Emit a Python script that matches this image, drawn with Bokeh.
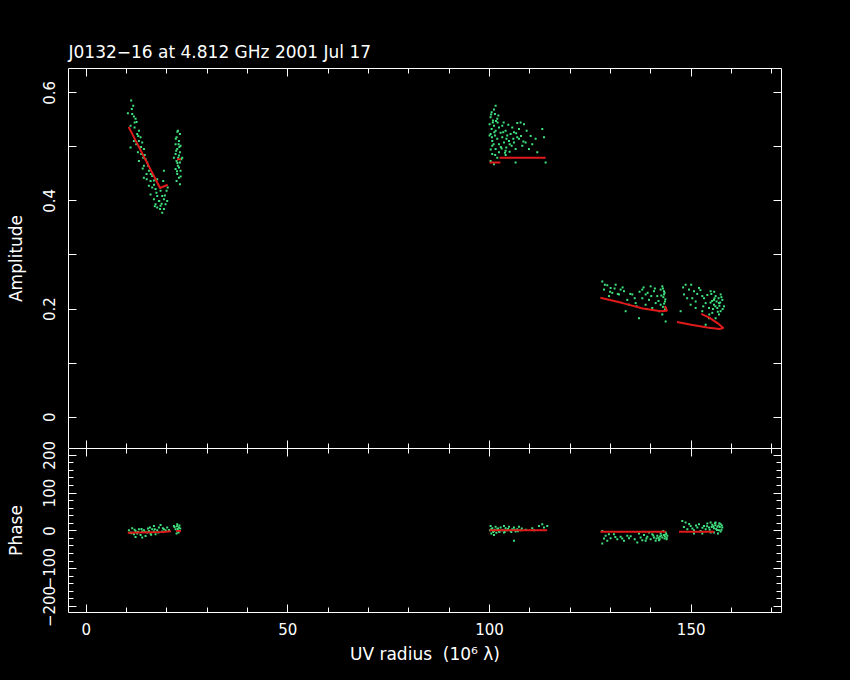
from bokeh.plotting import figure
from bokeh.models import LinearAxis, FixedTicker, Range1d
from bokeh.layouts import column
from bokeh.embed import file_html
from bokeh.resources import INLINE

TITLE = "J0132\u221216 at 4.812 GHz 2001 Jul 17"
X_LABEL = "UV radius\u00a0\u00a0(10\u2076 \u03bb)"
AMP_LABEL = "Amplitude"
PHASE_LABEL = "Phase"

# ---- amplitude data (UV radius in 10^6 lambda, amplitude in Jy) ----
amp_uv = [
    11.15, 11.65, 10.33, 11.40, 11.82, 12.23, 12.48, 10.99, 11.98, 13.06, 12.64, 13.47, 11.82, 13.06,
    13.88, 10.99, 13.30, 14.30, 12.81, 13.64, 14.13, 14.71, 13.06, 15.12, 14.30, 15.54, 14.96, 16.36,
    14.30, 15.95, 16.78, 17.60, 15.54, 16.36, 17.19, 18.43, 15.95, 17.60, 18.84, 16.78, 18.02, 19.26,
    17.19, 18.43, 19.67, 17.60, 19.26, 18.84, 20.08, 19.92, 19.09, 19.26,
    22.73, 23.23, 22.40, 22.98, 22.15, 23.39, 22.56, 23.23, 22.15, 22.98, 23.56, 22.40, 23.23, 22.73,
    22.15, 23.39, 22.56, 22.98, 22.40, 23.23, 23.80, 21.74, 22.60, 22.90, 22.30, 23.00, 22.60,
    101.51, 101.10, 100.52, 101.34, 100.27, 100.85, 101.92, 100.02, 101.10, 100.52, 101.51, 102.34,
    100.27, 101.34, 102.75, 103.99, 100.68, 101.92, 103.16, 104.40, 105.23, 106.06, 106.88, 100.68,
    102.34, 103.58, 104.82, 106.06, 107.30, 101.51, 103.00, 104.16, 105.48, 106.47, 108.12, 100.68,
    102.34, 103.82, 104.98, 106.88, 107.71, 108.54, 108.95, 110.60, 111.43, 113.08, 113.50, 113.91,
    100.27, 101.10, 106.47, 103.99, 101.92, 100.02, 103.16, 104.65, 105.64, 107.30, 109.78, 111.84,
    100.40, 100.80, 101.20, 100.60, 101.00, 100.30, 101.40,
    127.96, 129.20, 128.38, 130.03, 131.27, 132.51, 130.44, 132.10, 133.34, 129.62, 134.16, 133.75,
    134.58, 137.06, 138.71, 139.95, 140.78, 139.54, 141.60, 142.43, 142.84, 143.26, 143.50, 143.67,
    142.43, 141.19, 140.36, 138.71, 137.88, 142.84, 143.67, 143.26, 142.02, 136.23, 137.88, 135.40,
    143.00, 143.40, 143.10, 143.60, 143.30, 143.00, 143.50,
    148.63, 149.46, 148.22, 150.70, 151.94, 152.76, 151.11, 153.59, 154.83, 155.66, 156.07, 156.90,
    156.48, 157.31, 157.73, 155.24, 154.42, 156.07, 152.76, 151.11, 149.87, 153.59, 157.31, 158.14,
    156.90, 155.66, 154.42, 150.28, 147.39, 154.83,
    155.00, 155.80, 156.30, 157.00, 155.40, 156.60, 154.80, 157.50,
]
amp_val = [
    0.586, 0.576, 0.562, 0.561, 0.556, 0.552, 0.546, 0.539, 0.536, 0.530, 0.524, 0.518, 0.511, 0.511,
    0.508, 0.499, 0.499, 0.496, 0.490, 0.487, 0.480, 0.477, 0.474, 0.471, 0.465, 0.456, 0.450, 0.446,
    0.443, 0.437, 0.438, 0.440, 0.428, 0.425, 0.422, 0.419, 0.412, 0.409, 0.409, 0.403, 0.400, 0.403,
    0.394, 0.391, 0.394, 0.388, 0.385, 0.378, 0.400, 0.419, 0.437, 0.456,
    0.530, 0.524, 0.518, 0.511, 0.505, 0.502, 0.496, 0.490, 0.487, 0.484, 0.477, 0.474, 0.471, 0.465,
    0.459, 0.456, 0.450, 0.443, 0.437, 0.431, 0.480, 0.480, 0.528, 0.505, 0.493, 0.462, 0.470,
    0.576, 0.569, 0.564, 0.561, 0.555, 0.549, 0.552, 0.542, 0.539, 0.533, 0.530, 0.536,
    0.524, 0.521, 0.526, 0.530, 0.511, 0.515, 0.518, 0.521, 0.524, 0.527, 0.518, 0.502,
    0.505, 0.508, 0.511, 0.508, 0.515, 0.496, 0.497, 0.499, 0.502, 0.496, 0.502, 0.487,
    0.490, 0.489, 0.491, 0.544, 0.545, 0.542, 0.508, 0.505, 0.515, 0.533, 0.518, 0.471,
    0.474, 0.468, 0.471, 0.493, 0.480, 0.521, 0.539, 0.541, 0.536, 0.533, 0.496, 0.490,
    0.560, 0.545, 0.527, 0.518, 0.505, 0.495, 0.485,
    0.251, 0.244, 0.236, 0.239, 0.245, 0.236, 0.230, 0.227, 0.233, 0.224, 0.217, 0.196,
    0.208, 0.183, 0.227, 0.242, 0.233, 0.217, 0.224, 0.236, 0.242, 0.227, 0.214, 0.202,
    0.208, 0.211, 0.202, 0.208, 0.220, 0.190, 0.177, 0.233, 0.196, 0.211, 0.236, 0.227,
    0.238, 0.230, 0.222, 0.218, 0.210, 0.204, 0.199,
    0.245, 0.236, 0.227, 0.233, 0.239, 0.224, 0.214, 0.211, 0.233, 0.217, 0.224, 0.211,
    0.202, 0.196, 0.217, 0.193, 0.183, 0.183, 0.196, 0.202, 0.208, 0.171, 0.227, 0.205,
    0.190, 0.208, 0.202, 0.220, 0.196, 0.165,
    0.228, 0.220, 0.214, 0.206, 0.200, 0.195, 0.212, 0.222,
]

# further amplitude visibilities read from the denser parts of each cluster
amp_uv_extra = [
    11.3, 12.0, 12.9, 13.6, 14.5, 15.3, 16.0, 16.8, 17.4, 18.1, 18.7, 19.5, 20.2, 12.4, 14.0, 15.0,
    17.0, 18.3, 22.2, 23.1, 22.8, 23.4, 22.5,
    102.0, 103.4, 104.2, 105.0, 105.9, 106.6, 107.8, 108.4, 102.8, 104.0, 109.2, 110.2, 102.2, 101.6,
    103.5,
    128.6, 129.9, 131.0, 131.8, 133.0, 134.9, 136.0, 137.2, 138.2, 139.2, 140.1, 141.0, 141.9, 142.6,
    139.0, 136.5,
    148.0, 149.0, 150.0, 151.5, 152.3, 153.2, 154.0, 154.5, 155.2, 156.0, 156.8, 157.2, 157.8, 153.0,
    155.7,
]
amp_val_extra = [
    0.570, 0.545, 0.520, 0.500, 0.485, 0.465, 0.450, 0.430, 0.415, 0.400, 0.395, 0.410, 0.425, 0.505,
    0.460, 0.440, 0.390, 0.385, 0.515, 0.500, 0.480, 0.445, 0.455,
    0.545, 0.527, 0.515, 0.505, 0.515, 0.525, 0.520, 0.510, 0.500, 0.485, 0.530, 0.520, 0.558, 0.548,
    0.545,
    0.245, 0.232, 0.238, 0.228, 0.240, 0.228, 0.220, 0.232, 0.240, 0.230, 0.224, 0.238, 0.215, 0.225,
    0.200, 0.205,
    0.240, 0.220, 0.245, 0.228, 0.235, 0.220, 0.226, 0.190, 0.215, 0.205, 0.220, 0.212, 0.200, 0.205,
    0.232,
]

# model amplitude tracks
amp_model_uv = [
    [10.5, 18.3, 20.2],
    [22.5, 23.5],
    [100.0, 102.7],
    [102.5, 113.9],
    [127.5, 133.0, 138.0, 142.5, 144.0, 143.5],
    [146.5, 150.0, 154.0, 157.0, 158.0, 156.5, 154.5, 152.5],
]
amp_model_val = [
    [0.537, 0.424, 0.430],
    [0.477, 0.477],
    [0.471, 0.471],
    [0.480, 0.480],
    [0.221, 0.211, 0.201, 0.196, 0.197, 0.206],
    [0.176, 0.171, 0.166, 0.163, 0.165, 0.174, 0.184, 0.191],
]

# ---- phase data (degrees) ----
ph_uv = [
    10.58, 10.99, 11.40, 11.82, 12.23, 12.64, 13.06, 13.47, 13.88, 14.30, 14.71, 15.12, 15.54, 15.95,
    16.36, 16.78, 17.19, 17.60, 16.78, 18.02, 18.84, 19.26, 19.67, 20.08, 21.74, 22.15, 22.56, 22.98,
    22.73, 22.40, 23.23, 12.23, 13.88, 15.79, 18.43, 22.50, 22.90, 23.30,
    100.27, 100.68, 101.10, 100.44, 101.51, 101.92, 102.34, 102.75, 103.16, 103.58, 103.99, 104.40,
    104.82, 105.23, 105.64, 106.06, 106.47, 106.88, 107.30, 106.06, 110.60, 111.02, 112.26, 113.08,
    113.50, 114.32, 101.10, 100.10, 107.71, 103.58,
    100.50, 100.90, 101.30, 101.70, 102.10, 102.50,
    127.96, 128.79, 129.20, 130.03, 130.86, 131.68, 132.51, 133.34, 134.16, 134.58, 127.96, 137.06,
    137.47, 138.30, 138.71, 139.13, 139.95, 140.36, 140.78, 141.60, 142.02, 142.43, 142.85, 143.26,
    143.67, 143.92, 144.09, 139.54, 136.64, 137.88, 141.19, 143.09,
    141.90, 142.60, 143.40, 143.80, 142.20,
    147.80, 148.63, 149.05, 149.87, 150.70, 151.53, 151.94, 152.35, 153.18, 153.59, 154.01, 154.42,
    154.83, 155.24, 155.66, 156.07, 156.49, 156.90, 157.31, 157.73, 155.66, 156.65, 152.76, 150.70,
    154.83, 157.31,
    155.50, 156.20, 156.80, 157.50, 157.00,
]
ph_val = [
    1.7, -4.4, 7.0, -8.8, 0.0, -7.1, 4.4, -10.6, -1.8, 1.7, -13.3, -4.4, 0.0, -7.1,
    4.4, -1.8, -8.8, 1.7, 13.2, 8.8, -1.8, 4.4, 1.7, 8.8, 13.2, 4.4, 17.6, 8.8,
    -1.8, -7.1, 0.0, -15.9, -17.7, 8.8, 15.8, 12.0, -4.0, 6.0,
    13.2, 7.1, 0.0, -7.0, 10.6, 4.4, -1.7, 8.8, 1.8, -4.4, 7.1, 1.8,
    10.6, 0.0, 4.4, 8.8, -1.7, 4.4, 10.6, -26.4, 7.1, 1.8, 13.2, 17.6,
    8.8, 13.2, -10.6, 1.8, 1.8, 13.2,
    5.0, -3.0, 3.0, -5.0, 6.0, -2.0,
    0.0, -13.2, -26.4, -19.4, -8.8, -22.0, -15.8, -26.4, -13.2, -19.4, -33.5, -7.0,
    -17.6, -10.6, -26.4, -15.8, -22.0, -8.8, -17.6, -13.2, -24.6, -7.0, -17.6, -10.6,
    -4.4, -22.0, -13.2, -4.4, -30.8, -24.6, -26.4, 0.0,
    -18.0, -12.0, -20.0, -8.0, -22.0,
    26.4, 22.0, 4.4, 13.2, 1.8, 8.8, 17.6, 0.0, 13.2, 4.4, 19.4, 8.8,
    -4.4, 15.9, 7.1, 22.0, 10.6, 1.8, 17.6, 8.8, -4.4, -7.0, -7.0, -7.0,
    22.0, -1.8,
    12.0, 5.0, 14.0, 3.0, 20.0,
]

ph_uv_extra = [
    11.2, 12.0, 12.8, 13.7, 14.5, 15.3, 16.1, 17.0, 17.9, 19.0, 20.5, 21.9, 22.7, 23.1,
    103.8, 104.6, 105.4, 106.2, 107.0, 108.0, 109.0,
    128.4, 129.6, 131.2, 132.9, 135.0, 136.0, 138.9, 140.6, 141.4, 142.3, 143.5, 143.9,
    148.2, 149.5, 150.3, 151.2, 152.8, 153.9, 154.6, 155.1, 156.0, 156.4, 157.1, 157.6, 155.9,
]
ph_val_extra = [
    -6.0, 3.0, -3.0, 5.0, -2.0, 6.0, -10.0, 4.0, -4.0, 7.0, 2.0, 10.0, 5.0, 14.0,
    -2.0, 5.0, -3.0, 3.0, -1.0, 6.0, 3.0,
    -20.0, -9.0, -16.0, -20.0, -14.0, -22.0, -20.0, -12.0, -20.0, -15.0, -14.0, -18.0,
    10.0, 18.0, 6.0, 14.0, 8.0, 12.0, 3.0, 10.0, 15.0, 2.0, 10.0, 14.0, 20.0,
]

ph_model_uv = [
    [10.3, 19.0, 21.0],
    [22.3, 23.5],
    [100.0, 114.3],
    [127.5, 143.7],
    [147.0, 155.7],
]
ph_model_val = [
    [-5.0, -3.0, -1.0],
    [0.0, 0.0],
    [1.8, 1.8],
    [-2.6, -2.6],
    [-2.0, -2.0],
]

x_major = [0, 50, 100, 150]
x_minor = [10, 20, 30, 40, 60, 70, 80, 90, 110, 120, 130, 140, 160, 170]
amp_major = [0.0, 0.2, 0.4, 0.6]
amp_minor = [0.1, 0.3, 0.5]
ph_major = [-200, -100, 0, 100, 200]
ph_minor = [-180, -160, -140, -120, -80, -60, -40, -20, 20, 40, 60, 80, 120, 140, 160, 180]
ph_tick_text = {-200: "\u2212200", -100: "\u2212100", 0: "0", 100: "100", 200: "200"}

FONT = "DejaVu Sans"
GREEN = "#3fe07e"
RED = "#e01a1a"
WHITE = "#ffffff"
OVERLAP = 14  # px of the phase canvas laid over the amplitude canvas


def make_axis(ticker, shown, vertical=False, label=None, minor_len=5, overrides=None,
              line=True, label_standoff=15):
    ax = LinearAxis(ticker=ticker)
    ax.axis_line_color = WHITE if line else None
    ax.axis_line_width = 1
    ax.major_tick_line_color = WHITE
    ax.minor_tick_line_color = WHITE
    ax.major_tick_in = 8
    ax.major_tick_out = 0
    ax.minor_tick_in = minor_len
    ax.minor_tick_out = 0
    if shown:
        ax.major_label_text_color = WHITE
        ax.major_label_text_font = FONT
        ax.major_label_text_font_size = "15px"
        ax.major_label_standoff = 13 if vertical else 10
        if vertical:
            ax.major_label_orientation = "vertical"
        if overrides:
            ax.major_label_overrides = overrides
    else:
        ax.major_label_text_font_size = "0px"
        ax.major_label_standoff = 0
        ax.major_label_text_color = None
    if label:
        ax.axis_label = label
        ax.axis_label_text_color = WHITE
        ax.axis_label_text_font = FONT
        ax.axis_label_text_font_size = "17px"
        ax.axis_label_text_font_style = "normal"
        ax.axis_label_standoff = label_standoff
    return ax


def base_fig(yr, fh, top, bottom, title=None):
    p = figure(
        frame_width=713, frame_height=fh,
        x_range=Range1d(-4.4, 172.4), y_range=yr,
        output_backend="svg", toolbar_location=None,
        x_axis_location=None, y_axis_location=None,
        background_fill_color="black", border_fill_color="black",
        outline_line_color=None,
        min_border_left=68, min_border_right=50,
        min_border_top=top, min_border_bottom=bottom,
        title=title,
    )
    p.grid.visible = False
    return p


# ---- amplitude panel ----
p1 = base_fig(Range1d(-0.058, 0.645), 380, 68, 0, title=TITLE)
p1.title.text_color = WHITE
p1.title.text_font = FONT
p1.title.text_font_size = "17px"
p1.title.text_font_style = "normal"
p1.title.align = "left"
p1.title.standoff = 13
p1.title.offset = 0

p1.add_layout(make_axis(FixedTicker(ticks=amp_major, minor_ticks=amp_minor), True, vertical=True,
                        label=AMP_LABEL, minor_len=8), "left")
p1.add_layout(make_axis(FixedTicker(ticks=amp_major, minor_ticks=amp_minor), False, minor_len=8), "right")
p1.add_layout(make_axis(FixedTicker(ticks=x_major, minor_ticks=x_minor), False, line=False), "below")
p1.add_layout(make_axis(FixedTicker(ticks=x_major, minor_ticks=x_minor), False), "above")

p1.scatter(amp_uv + amp_uv_extra, amp_val + amp_val_extra, marker="square", size=2,
           fill_color=GREEN, line_color=None)
p1.multi_line(amp_model_uv, amp_model_val, line_color=RED, line_width=2)

# ---- phase panel ----
p2 = base_fig(Range1d(-216, 218), 164, OVERLAP, 60)
p2.border_fill_alpha = 0
p2.margin = (-OVERLAP, 0, 0, 0)
p2.add_layout(make_axis(FixedTicker(ticks=ph_major, minor_ticks=ph_minor), True, vertical=True,
                        label=PHASE_LABEL, overrides=ph_tick_text), "left")
p2.add_layout(make_axis(FixedTicker(ticks=ph_major, minor_ticks=ph_minor), False), "right")
p2.add_layout(make_axis(FixedTicker(ticks=x_major, minor_ticks=x_minor), True, label=X_LABEL,
                        label_standoff=6), "below")
p2.add_layout(make_axis(FixedTicker(ticks=x_major, minor_ticks=x_minor), False), "above")

p2.scatter(ph_uv + ph_uv_extra, ph_val + ph_val_extra, marker="square", size=2,
           fill_color=GREEN, line_color=None)
p2.multi_line(ph_model_uv, ph_model_val, line_color=RED, line_width=2)

layout = column(p1, p2, spacing=0)

html = file_html(layout, INLINE)
html = html.replace("<body>", '<body style="background-color:#000000;">')
open("out.html", "w").write(html)
